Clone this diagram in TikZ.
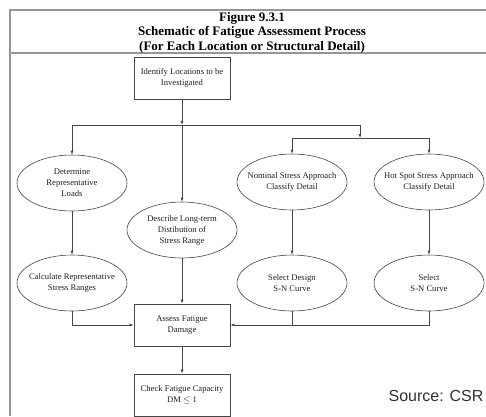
\documentclass[tikz,border=0pt]{standalone}
\usepackage{fontspec}
\setmainfont{Liberation Serif}
\newfontfamily\srcfont{Liberation Sans}
\usetikzlibrary{arrows.meta,shapes.geometric,positioning}
\definecolor{csrframe}{RGB}{150,150,150}
\definecolor{csrline}{RGB}{70,70,70}
\definecolor{csrtext}{RGB}{30,30,30}
\definecolor{csrsource}{RGB}{50,50,50}

\begin{document}
\begin{tikzpicture}[x=1pt, y=-1pt,
                    >={Latex[length=4pt,width=3pt]},
                    stepbox/.style = {
                      rectangle, draw=csrline, line width=0.8pt,
                      minimum width=96pt, minimum height=42pt,
                      inner sep=1pt, align=center, text=csrtext,
                      font=\fontsize{8.6}{11}\selectfont
                    },
                    stepoval/.style = {
                      ellipse, draw=csrline, line width=0.6pt,
                      minimum width=110pt, minimum height=56pt,
                      inner xsep=-14pt, inner ysep=0pt,
                      align=center, text=csrtext,
                      font=\fontsize{8.6}{11}\selectfont
                    },
                    link/.style = {
                      draw=csrline, line width=0.7pt
                    }]
    \useasboundingbox (0,0) rectangle (486,416);

    % frame and heading
    \draw[csrframe, line width=1.5pt] (10,416) -- (10,10) -- (486,10);
    \draw[csrframe, line width=1.2pt] (10,53) -- (486,53);
    \node(heading)[align=center, font=\fontsize{13}{14.5}\selectfont\bfseries]
      at (252,32.5) {Figure 9.3.1\\
                   Schematic of Fatigue Assessment Process\\
                   (For Each Location or Structural Detail)};

    \node(identify)[stepbox] at (182,78) {Identify Locations to be\\Investigated};

    \node(determine)[stepoval] at (72,183) {Determine\\Representative\\Loads};
    \node(describe)[stepoval] at (182,230) {Describe Long-term\\Distibution of\\Stress Range};
    \node(nominal)[stepoval] at (292,182) {Nominal Stress Approach\\Classify Detail};
    \node(hotspot)[stepoval] at (429,182) {Hot Spot Stress Approach\\Classify Detail};

    \node(calc)[stepoval] at (72,283) {Calculate Representative\\Stress Ranges};
    \node(design)[stepoval] at (292,283) {Select Design\\S-N Curve};
    \node(selectsn)[stepoval] at (429,283) {Select\\S-N Curve};

    \node(assess)[stepbox] at (182,325) {Assess Fatigue\\Damage};
    \node(check)[stepbox] at (182,395) {Check Fatigue Capacity\\DM $\leq$ 1};

    \node(source)[text=csrsource, font=\srcfont\fontsize{16}{18}\selectfont]
      at (436,396) {Source: CSR};

    \coordinate (split) at (182,125);
    \coordinate (rsplit) at (360,138);

    \draw[->, link] (identify.south) -- (split);
    \draw[->, link] (split) -| (determine.north);
    \draw[->, link] (split) -- (describe.north);
    \draw[->, link] (split) -| (rsplit);
    \draw[->, link] (rsplit) -| (nominal.north);
    \draw[->, link] (rsplit) -| (hotspot.north);

    \draw[->, link] (determine.south) -- (calc.north);
    \draw[->, link] (nominal.south) -- (design.north);
    \draw[->, link] (hotspot.south) -- (selectsn.north);

    \draw[->, link] (calc.south) |- (assess.west);
    \draw[->, link] (describe.south) -- (assess.north);
    \draw[->, link] (selectsn.south) |- (assess.east);
    \draw[link] (design.south) -- (design.south |- assess.east);
    \draw[->, link] (assess.south) -- (check.north);
  \end{tikzpicture}
\end{document}
